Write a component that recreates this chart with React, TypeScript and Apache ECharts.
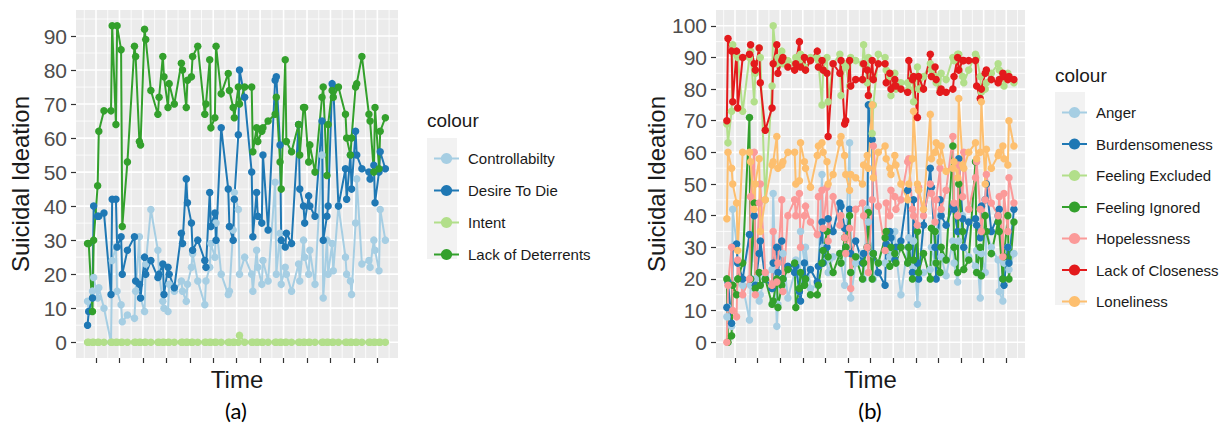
import React, { useEffect, useRef } from "react";
import * as echarts from "echarts";

// ---- time axis: 13 days, seven observations per day ----
const dayTicks = [1, 2, 3, 4, 5, 6, 7, 8, 9, 10, 11, 12, 13];
const dayMinor = [0.5, 1.5, 2.5, 3.5, 4.5, 5.5, 6.5, 7.5, 8.5, 9.5, 10.5, 11.5, 12.5, 13.5];
const slotOffsets = [-0.36, -0.31, -0.15, -0.1, 0.07, 0.12, 0.34];
const times = dayTicks.flatMap((d) => slotOffsets.map((o) => Math.round((d + o) * 100) / 100));

// ---- y ticks ----
const yMajorA = [0, 10, 20, 30, 40, 50, 60, 70, 80, 90];
const yMinorA = [5, 15, 25, 35, 45, 55, 65, 75, 85, 95];
const yMajorB = [0, 10, 20, 30, 40, 50, 60, 70, 80, 90, 100];
const yMinorB = [5, 15, 25, 35, 45, 55, 65, 75, 85, 95];

// ---- panel (a) ----
const controllability = [
  12, 9, 15, 19, 13, 16, 10,
  0, 24, 28, 15, 11, 6, 8,
  7, 15, 31, 13, 9, 23, 39,
  27, 20, 12, 10, 9, 17, 15,
  18, 15, 12, 17, 22, 26, 18,
  11, 18, 22, 29, 25, 35, 20,
  14, 15, 33, 44, 39, 20, 25,
  20, 15, 27, 22, 17, 24, 18,
  47, 20, 32, 17, 22, 20, 15,
  23, 18, 30, 25, 20, 27, 17,
  55, 13, 30, 20, 29, 21, 40,
  25, 20, 18, 14, 35, 48, 23,
  24, 22, 30, 27, 21, 39, 30,
];
const desireToDie = [
  5, 9, 13, 40, 37, 37, 38,
  14, 42, 42, 28, 31, 20, 27,
  31, 18, 17, 13, 25, 20, 24,
  19, 20, 23, 14, 22, 20, 16,
  32, 29, 48, 41, 35, 27, 30,
  24, 22, 44, 34, 38, 30, 63,
  45, 34, 30, 42, 61, 80, 72,
  50, 31, 44, 37, 35, 55, 33,
  77, 78, 58, 30, 28, 32, 29,
  64, 45, 40, 35, 43, 40, 37,
  65, 30, 37, 40, 76, 75, 40,
  51, 42, 55, 45, 62, 55, 51,
  50, 48, 52, 41, 50, 56, 51,
];
const intent = [
  0, 0, 0, 0, 0, 0, 0,
  0, 0, 0, 0, 0, 0, 0,
  0, 0, 0, 0, 0, 0, 0,
  0, 0, 0, 0, 0, 0, 0,
  0, 0, 0, 0, 0, 0, 0,
  0, 0, 0, 0, 0, 0, 0,
  0, 0, 0, 0, 0, 2, 0,
  0, 0, 0, 0, 0, 0, 0,
  0, 0, 0, 0, 0, 0, 0,
  0, 0, 0, 0, 0, 0, 0,
  0, 0, 0, 0, 0, 0, 0,
  0, 0, 0, 0, 0, 0, 0,
  0, 0, 0, 0, 0, 0, 0,
];
const lackOfDeterrents = [
  29, 29, 9, 30, 46, 62, 68,
  68, 93, 64, 93, 86, 34, 53,
  87, 84, 59, 58, 92, 89, 74,
  67, 72, 84, 78, 69, 76, 70,
  82, 80, 69, 77, 78, 84, 87,
  67, 70, 83, 63, 66, 87, 73,
  79, 74, 69, 66, 75, 70, 75,
  75, 56, 63, 59, 62, 63, 65,
  67, 72, 53, 45, 83, 59, 56,
  64, 55, 69, 69, 53, 58, 50,
  72, 75, 49, 64, 74, 72, 75,
  67, 60, 55, 60, 75, 76, 84,
  67, 65, 50, 69, 51, 62, 66,
];

// ---- panel (b) ----
const anger = [
  8, 11, 5, 42, 31, 25, 18,
  7, 18, 17, 20, 13, 15, 21,
  23, 47, 5, 12, 17, 28, 14,
  22, 26, 16, 35, 25, 30, 17,
  18, 24, 53, 30, 26, 22, 27,
  28, 25, 18, 30, 63, 14, 25,
  28, 20, 42, 38, 28, 20, 25,
  25, 33, 27, 29, 35, 28, 15,
  30, 33, 24, 32, 12, 20, 22,
  23, 30, 25, 35, 40, 27, 21,
  32, 25, 19, 32, 40, 30, 27,
  24, 29, 14, 28, 22, 35, 30,
  26, 16, 13, 25, 30, 23, 28,
];
const burdensomeness = [
  11, 19, 6, 30, 31, 25, 20,
  34, 20, 40, 18, 28, 32, 20,
  17, 25, 30, 22, 32, 20, 24,
  22, 24, 16, 13, 25, 20, 23,
  19, 24, 38, 25, 30, 39, 35,
  44, 43, 36, 30, 42, 28, 32,
  25, 28, 30, 75, 64, 28, 22,
  18, 31, 35, 33, 26, 30, 32,
  48, 30, 22, 45, 25, 20, 37,
  55, 49, 30, 20, 45, 40, 37,
  43, 42, 35, 58, 39, 30, 38,
  39, 37, 33, 43, 45, 50, 35,
  40, 42, 20, 18, 30, 25, 42,
];
const feelingExcluded = [
  69, 63, 73, 94, 91, 90, 73,
  90, 92, 76, 85, 93, 90, 45,
  81, 100, 88, 90, 92, 88, 89,
  88, 90, 89, 91, 87, 86, 90,
  90, 89, 75, 86, 90, 76, 88,
  91, 78, 88, 87, 81, 90, 89,
  88, 94, 82, 90, 66, 75, 91,
  90, 86, 84, 78, 85, 80, 82,
  82, 80, 84, 76, 87, 80, 84,
  88, 86, 84, 82, 80, 85, 83,
  90, 89, 91, 91, 84, 82, 86,
  91, 90, 84, 79, 80, 82, 85,
  88, 86, 84, 81, 85, 84, 82,
];
const feelingIgnored = [
  20, 0, 2, 18, 15, 20, 25,
  71, 20, 44, 17, 22, 18, 20,
  12, 13, 20, 11, 18, 20, 23,
  25, 11, 17, 22, 18, 20, 15,
  15, 18, 25, 29, 35, 27, 22,
  28, 25, 33, 30, 40, 22, 27,
  20, 25, 30, 41, 20, 28, 25,
  33, 35, 24, 30, 28, 25, 30,
  25, 30, 20, 26, 35, 22, 28,
  20, 36, 35, 25, 22, 30, 26,
  62, 30, 22, 50, 35, 23, 26,
  57, 22, 30, 21, 40, 35, 28,
  38, 35, 20, 27, 40, 20, 38,
];
const hopelessness = [
  0, 18, 30, 10, 8, 26, 15,
  20, 46, 60, 15, 44, 50, 22,
  18, 35, 19, 25, 45, 16, 40,
  45, 40, 47, 30, 40, 43, 38,
  34, 46, 48, 36, 49, 32, 46,
  37, 40, 33, 28, 36, 17, 42,
  44, 40, 30, 22, 45, 62, 43,
  29, 44, 40, 48, 46, 42, 45,
  57, 58, 42, 40, 37, 49, 40,
  50, 47, 38, 45, 55, 42, 48,
  65, 44, 40, 56, 46, 60, 42,
  52, 57, 42, 35, 45, 53, 44,
  40, 46, 27, 47, 35, 52, 44,
];
const lackOfCloseness = [
  70, 96, 92, 76, 92, 74, 90,
  91, 94, 88, 86, 93, 82, 67,
  74, 88, 94, 85, 89, 90, 87,
  86, 88, 95, 87, 90, 86, 89,
  92, 87, 89, 86, 85, 65, 88,
  85, 89, 69, 70, 89, 81, 83,
  83, 88, 86, 78, 89, 83, 88,
  88, 82, 85, 80, 83, 81, 80,
  79, 89, 83, 84, 71, 84, 80,
  91, 84, 87, 83, 79, 80, 79,
  80, 84, 90, 86, 89, 89, 89,
  89, 81, 77, 80, 85, 86, 83,
  82, 83, 85, 84, 83, 84, 83,
];
const loneliness = [
  39, 60, 55, 50, 44, 29, 60,
  60, 57, 42, 50, 58, 35, 45,
  56, 57, 65, 55, 56, 57, 60,
  60, 50, 51, 63, 57, 55, 49,
  59, 62, 63, 60, 57, 50, 53,
  63, 65, 59, 53, 48, 53, 52,
  50, 56, 59, 55, 75, 52, 60,
  62, 58, 55, 53, 59, 56, 50,
  45, 50, 58, 73, 50, 48, 42,
  72, 58, 60, 63, 57, 62, 54,
  55, 57, 52, 77, 56, 55, 60,
  63, 58, 60, 76, 50, 61, 55,
  59, 60, 62, 58, 56, 70, 62,
];

const panelA = [
  { name: "Controllabilty", values: controllability, color: "#A6CEE3" },
  { name: "Desire To Die", values: desireToDie, color: "#1F78B4" },
  { name: "Intent", values: intent, color: "#B2DF8A" },
  { name: "Lack of Deterrents", values: lackOfDeterrents, color: "#33A02C" },
];
const panelB = [
  { name: "Anger", values: anger, color: "#A6CEE3" },
  { name: "Burdensomeness", values: burdensomeness, color: "#1F78B4" },
  { name: "Feeling Excluded", values: feelingExcluded, color: "#B2DF8A" },
  { name: "Feeling Ignored", values: feelingIgnored, color: "#33A02C" },
  { name: "Hopelessness", values: hopelessness, color: "#FB9A99" },
  { name: "Lack of Closeness", values: lackOfCloseness, color: "#E31A1C" },
  { name: "Loneliness", values: loneliness, color: "#FDBF6F" },
];

const FONT = "'Liberation Sans', Arial, sans-serif";
const CAPTION_FONT = "Lato, 'Open Sans', sans-serif";

function gridLines(gridIdx: number, values: number[], dir: "h" | "v", width: number) {
  return {
    type: "custom",
    xAxisIndex: gridIdx,
    yAxisIndex: gridIdx,
    silent: true,
    z: 0,
    data: values.map((v) => (dir === "h" ? [1, v] : [v, 0])),
    renderItem: (params: any, api: any) => {
      const cs = params.coordSys;
      const p = api.coord([api.value(0), api.value(1)]);
      const shape =
        dir === "h"
          ? { x1: cs.x, y1: p[1], x2: cs.x + cs.width, y2: p[1] }
          : { x1: p[0], y1: cs.y, x2: p[0], y2: cs.y + cs.height };
      return { type: "line", shape, style: { stroke: "#FFFFFF", lineWidth: width } };
    },
  };
}

function lineSeries(gridIdx: number, s: { name: string; values: number[]; color: string }) {
  return {
    name: s.name,
    type: "line",
    xAxisIndex: gridIdx,
    yAxisIndex: gridIdx,
    data: times.map((t, i) => [t, s.values[i]]),
    symbol: "circle",
    symbolSize: 7.5,
    showSymbol: true,
    showAllSymbol: true,
    lineStyle: { width: 2, color: s.color },
    itemStyle: { color: s.color },
    z: 2,
  };
}

function xAxisFor(gridIdx: number, min: number, max: number) {
  return {
    gridIndex: gridIdx,
    type: "value",
    position: "bottom",
    min,
    max,
    axisLine: { show: false, onZero: false },
    axisTick: { show: true, customValues: dayTicks, length: 5, lineStyle: { color: "#333333", width: 1.2 } },
    axisLabel: { show: false },
    splitLine: { show: false },
    name: "Time",
    nameLocation: "middle",
    nameGap: 9,
    nameTextStyle: { fontSize: 24, color: "#1A1A1A", fontFamily: FONT, verticalAlign: "top" },
  };
}

function yAxisFor(gridIdx: number, min: number, max: number, ticks: number[]) {
  return {
    gridIndex: gridIdx,
    type: "value",
    position: "left",
    min,
    max,
    axisLine: { show: false, onZero: false },
    axisTick: { show: true, customValues: ticks, length: 5, lineStyle: { color: "#333333", width: 1.2 } },
    axisLabel: { customValues: ticks, fontSize: 21, color: "#4D4D4D", margin: 9, fontFamily: FONT },
    splitLine: { show: false },
    name: "Suicidal Ideation",
    nameLocation: "middle",
    nameGap: 44,
    nameTextStyle: { fontSize: 24, color: "#1A1A1A", fontFamily: FONT },
  };
}

function legendFor(left: number, top: number, gap: number, names: string[]) {
  return {
    orient: "vertical",
    left,
    top,
    itemWidth: 25,
    itemHeight: 14,
    itemGap: gap,
    data: names,
    selectedMode: false,
    textStyle: { fontSize: 15, color: "#1A1A1A", fontFamily: FONT, padding: [0, 0, 0, 4] },
  };
}

export default function App() {
  const ref = useRef<HTMLDivElement>(null);

  useEffect(() => {
    if (!ref.current) return;
    const chart = echarts.init(ref.current, undefined, { renderer: "svg" });
    const option = {
      animation: false,
      backgroundColor: "#FFFFFF",
      grid: [
        { left: 76, top: 10, width: 322, height: 348, show: true, backgroundColor: "#EBEBEB", borderWidth: 0 },
        { left: 716, top: 10, width: 309, height: 348, show: true, backgroundColor: "#EBEBEB", borderWidth: 0 },
      ],
      xAxis: [xAxisFor(0, 0.147, 13.88), xAxisFor(1, 0.16, 13.83)],
      yAxis: [yAxisFor(0, -4.65, 97.65, yMajorA), yAxisFor(1, -5, 105, yMajorB)],
      legend: [
        legendFor(428, 146, 17, panelA.map((s) => s.name)),
        legendFor(1056, 100, 16.5, panelB.map((s) => s.name)),
      ],
      graphic: [
        { type: "rect", z: 0, shape: { x: 427, y: 138, width: 30, height: 121 }, style: { fill: "#F2F2F2" } },
        { type: "rect", z: 0, shape: { x: 1055, y: 92, width: 30, height: 213 }, style: { fill: "#F2F2F2" } },
        { type: "text", x: 427, y: 120, style: { text: "colour", fontSize: 19, fill: "#1A1A1A", fontFamily: FONT, textVerticalAlign: "middle" } },
        { type: "text", x: 1055, y: 75, style: { text: "colour", fontSize: 19, fill: "#1A1A1A", fontFamily: FONT, textVerticalAlign: "middle" } },
        { type: "text", x: 236, y: 410, style: { text: "(a)", fontSize: 22, fill: "#000000", fontFamily: CAPTION_FONT, textAlign: "center", textVerticalAlign: "middle" } },
        { type: "text", x: 870, y: 410, style: { text: "(b)", fontSize: 22, fill: "#000000", fontFamily: CAPTION_FONT, textAlign: "center", textVerticalAlign: "middle" } },
      ],
      series: [
        gridLines(0, yMinorA, "h", 0.8),
        gridLines(0, dayMinor, "v", 0.8),
        gridLines(0, yMajorA, "h", 1.6),
        gridLines(0, dayTicks, "v", 1.6),
        gridLines(1, yMinorB, "h", 0.8),
        gridLines(1, dayMinor, "v", 0.8),
        gridLines(1, yMajorB, "h", 1.6),
        gridLines(1, dayTicks, "v", 1.6),
        ...panelA.map((s) => lineSeries(0, s)),
        ...panelB.map((s) => lineSeries(1, s)),
      ],
    };
    chart.setOption(option as any);
    return () => chart.dispose();
  }, []);

  return (
    <div
      ref={ref}
      style={{ position: "fixed", left: 0, top: 0, width: 1230, height: 428, background: "#FFFFFF" }}
    />
  );
}
